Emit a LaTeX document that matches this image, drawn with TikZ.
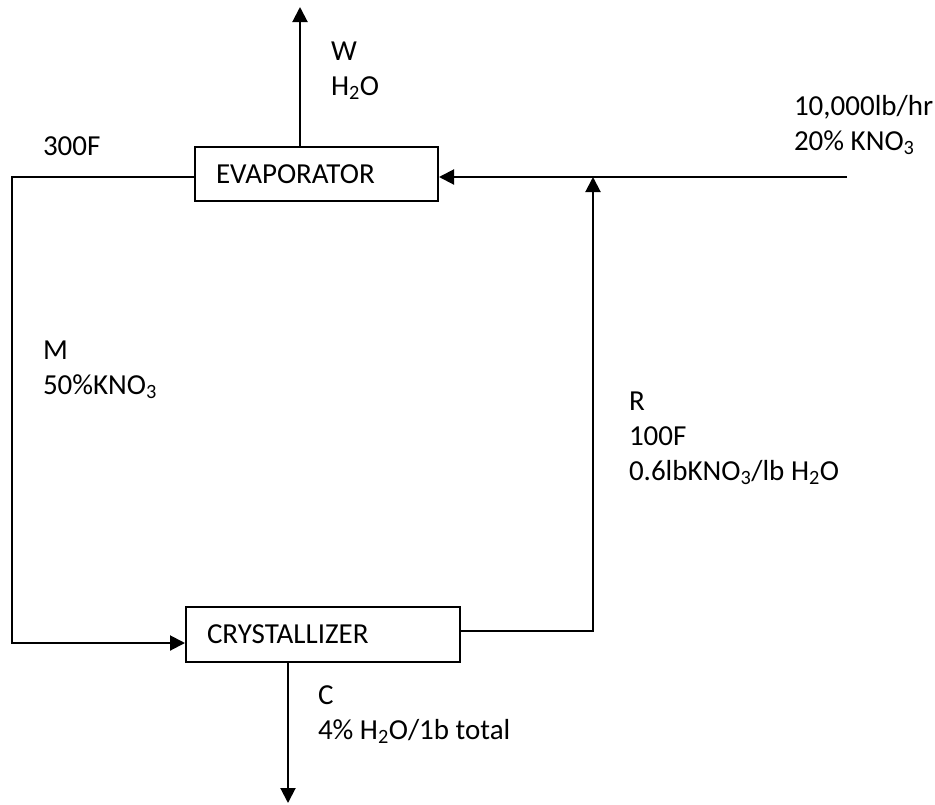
\documentclass[tikz,border=0pt]{standalone}
\usepackage{fontspec}
\setmainfont{Carlito}
\usetikzlibrary{arrows.meta,positioning}

\begin{document}
\begin{tikzpicture}[x=1pt,y=-1pt,
    line width=2pt,
    font=\fontsize{29}{35}\selectfont,
    unitBox/.style={draw, line width=2pt, inner xsep=21pt, inner ysep=0pt, align=left, minimum height=55pt},
    streamText/.style={anchor=base west, inner sep=0pt, align=left},
    flow/.style={-{Triangle[length=15pt,width=15pt]}}
]
\useasboundingbox (0,0) rectangle (935,804);

% process units
\node[unitBox, text width=201pt, minimum height=54pt] (evap) at (316.5,174) {EVAPORATOR};
\node[unitBox, text width=232pt] (crys) at (323,634.5) {CRYSTALLIZER};

% stream ends and corners
\coordinate (wTop) at (300,7);
\coordinate (mTop) at (12,177);
\coordinate (mBot) at (12,643);
\coordinate (rBot) at (593,631);
\coordinate (rTop) at (593,177);
\coordinate (feedIn) at (847,177);
\coordinate (cEnd) at (288,803);

% streams
\draw[flow] (evap.north -| wTop) -- (wTop);
\draw[flow] (evap.west |- mTop) -- (mTop) -- (mBot) -- (crys.west |- mBot);
\draw[flow] (crys.east |- rBot) -- (rBot) -- (rTop);
\draw[flow] (feedIn) -- (evap.east |- feedIn);
\draw[flow] (crys.south -| cEnd) -- (cEnd);

% stream labels (anchored at the last line's baseline)
\node[streamText] (wLabel) at (330,95) {W\\H\textsubscript{2}O};
\node[streamText] (tEvap) at (42,155) {300F};
\node[streamText] (feedLabel) at (793,150) {10,000lb/hr\\20\% KNO\textsubscript{3}};
\node[streamText] (mLabel) at (42,394) {M\\50\%KNO\textsubscript{3}};
\node[streamText] (rLabel) at (628,480) {R\\100F\\0.6lbKNO\textsubscript{3}/lb H\textsubscript{2}O};
\node[streamText] (cLabel) at (317,739) {C\\4\% H\textsubscript{2}O/1b total};
\end{tikzpicture}
\end{document}
